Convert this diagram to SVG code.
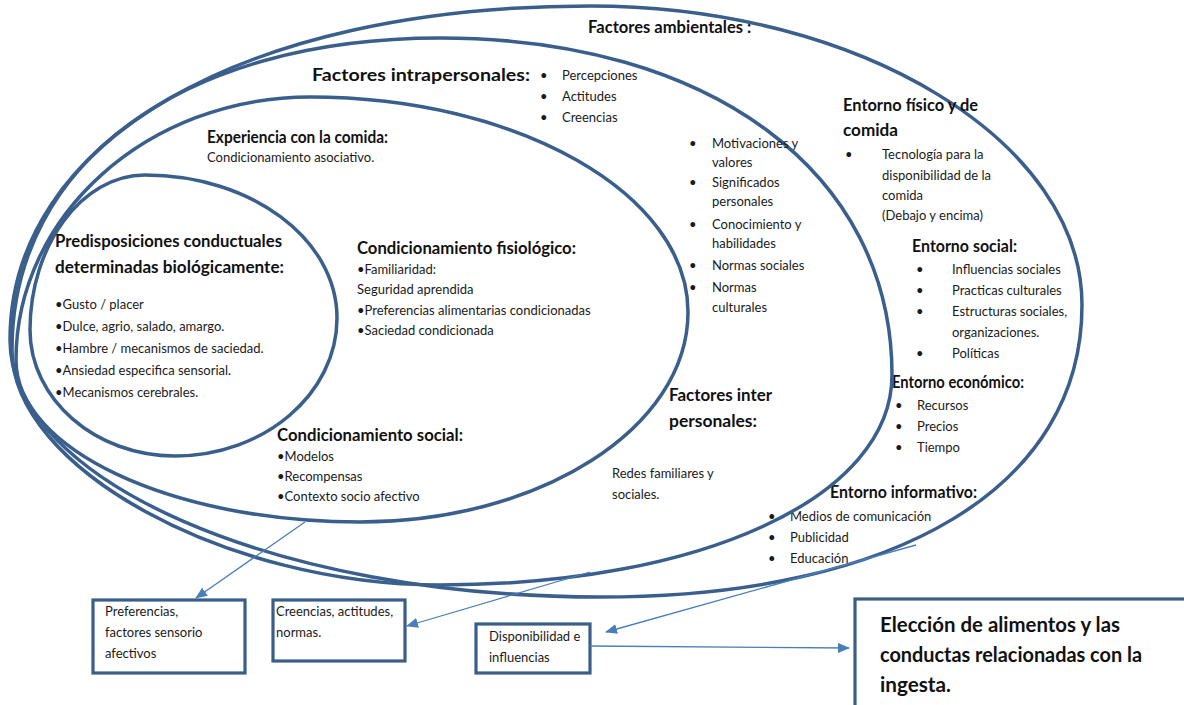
<svg xmlns="http://www.w3.org/2000/svg" width="1184" height="705" viewBox="0 0 1184 705">
<style>
.e{fill:none;stroke:#3a5f8c;stroke-width:3.5}
.b{fill:#fff;stroke:#3b5e88;stroke-width:3.2}
.t{font-family:Lato,"Liberation Sans",sans-serif;font-size:13px;fill:#1a1a1a}
.h{font-family:Lato,"Liberation Sans",sans-serif;font-size:16.5px;font-weight:bold;fill:#111}
.g{font-family:Lato,"Liberation Sans",sans-serif;font-size:21px;font-weight:bold;fill:#111}
.c{stroke:#4a7ebb;stroke-width:1.3;fill:none;marker-end:url(#ah)}
</style>
<defs>
<marker id="ah" viewBox="0 0 12 10" refX="11" refY="5" markerWidth="12" markerHeight="10" markerUnits="userSpaceOnUse" orient="auto"><path d="M0,0 L12,5 L0,10 Z" fill="#4a7ebb"/></marker>
</defs>
<rect width="1184" height="705" fill="#fff"/>

<g id="ambientales">
<path class="e" d="M10,340 C10,141 242,6 590,6 C861,6 1082,142 1082,305 C1082,486 899,597 600,597 C276,597 10,481 10,340 Z"/>
<text class="h" x="588" y="33" font-size="17.5" textLength="155" lengthAdjust="spacingAndGlyphs">Factores ambientales</text>
<text class="h" x="747" y="33" font-size="28">:</text>
<text class="h" x="843" y="111" textLength="135" lengthAdjust="spacingAndGlyphs">Entorno físico y de</text>
<text class="h" x="843" y="136" textLength="55" lengthAdjust="spacingAndGlyphs">comida</text>
<text class="t" x="845" y="159">•</text>
<text class="t" x="882" y="159">Tecnología para la</text>
<text class="t" x="882" y="180">disponibilidad de la</text>
<text class="t" x="882" y="200">comida</text>
<text class="t" x="882" y="220">(Debajo y encima)</text>
<text class="h" x="912" y="252" textLength="105" lengthAdjust="spacingAndGlyphs">Entorno social:</text>
<text class="t" x="916" y="274">•</text><text class="t" x="952" y="274">Influencias sociales</text>
<text class="t" x="916" y="295">•</text><text class="t" x="952" y="295">Practicas culturales</text>
<text class="t" x="916" y="316">•</text><text class="t" x="952" y="316">Estructuras sociales,</text>
<text class="t" x="952" y="337">organizaciones.</text>
<text class="t" x="916" y="358">•</text><text class="t" x="952" y="358">Políticas</text>
<text class="h" x="892" y="388" textLength="132" lengthAdjust="spacingAndGlyphs">Entorno económico:</text>
<text class="t" x="895" y="410">•</text><text class="t" x="917" y="410">Recursos</text>
<text class="t" x="895" y="431">•</text><text class="t" x="917" y="431">Precios</text>
<text class="t" x="895" y="452">•</text><text class="t" x="917" y="452">Tiempo</text>
<text class="h" x="830" y="498" textLength="147" lengthAdjust="spacingAndGlyphs">Entorno informativo:</text>
<text class="t" x="768" y="521">•</text><text class="t" x="790" y="521">Medios de comunicación</text>
<text class="t" x="768" y="542">•</text><text class="t" x="790" y="542">Publicidad</text>
<text class="t" x="768" y="563">•</text><text class="t" x="790" y="563">Educación</text>
</g>

<g id="intrapersonales">
<path class="e" d="M12,350 C12,163 183,38 440,38 C711,38 892,173 892,375 C892,497 702,585 440,585 C226,585 12,468 12,350 Z"/>
<text class="h" x="312" y="81" font-size="18" textLength="218" lengthAdjust="spacingAndGlyphs">Factores intrapersonales:</text>
<text class="t" x="540" y="80">•</text><text class="t" x="562" y="80">Percepciones</text>
<text class="t" x="540" y="101">•</text><text class="t" x="562" y="101">Actitudes</text>
<text class="t" x="540" y="122">•</text><text class="t" x="562" y="122">Creencias</text>
<text class="t" x="689" y="148">•</text><text class="t" x="712" y="148">Motivaciones y</text>
<text class="t" x="712" y="167">valores</text>
<text class="t" x="689" y="187">•</text><text class="t" x="712" y="187">Significados</text>
<text class="t" x="712" y="206">personales</text>
<text class="t" x="689" y="229">•</text><text class="t" x="712" y="229">Conocimiento y</text>
<text class="t" x="712" y="248">habilidades</text>
<text class="t" x="689" y="270">•</text><text class="t" x="712" y="270">Normas sociales</text>
<text class="t" x="689" y="292">•</text><text class="t" x="712" y="292">Normas</text>
<text class="t" x="712" y="312">culturales</text>
<text class="h" x="669" y="401" font-size="17" textLength="103" lengthAdjust="spacingAndGlyphs">Factores inter</text>
<text class="h" x="669" y="427" font-size="17" textLength="88" lengthAdjust="spacingAndGlyphs">personales:</text>
<text class="t" x="612" y="478">Redes familiares y</text>
<text class="t" x="612" y="499">sociales.</text>
</g>

<g id="experiencia">
<path class="e" d="M16,360 C16,215 148,97 310,97 C518,97 688,194 688,312 C688,428 540,522 360,522 C171,522 16,449 16,360 Z"/>
<text class="h" x="207" y="143" textLength="181" lengthAdjust="spacingAndGlyphs">Experiencia con la comida:</text>
<text class="t" x="207" y="162">Condicionamiento asociativo.</text>
<text class="h" x="357" y="254" textLength="219" lengthAdjust="spacingAndGlyphs">Condicionamiento fisiológico:</text>
<text class="t" x="357" y="274">•Familiaridad:</text>
<text class="t" x="357" y="294">Seguridad aprendida</text>
<text class="t" x="357" y="315">•Preferencias alimentarias condicionadas</text>
<text class="t" x="357" y="335">•Saciedad condicionada</text>
<text class="h" x="277" y="441" textLength="186" lengthAdjust="spacingAndGlyphs">Condicionamiento social:</text>
<text class="t" x="277" y="461">•Modelos</text>
<text class="t" x="277" y="481">•Recompensas</text>
<text class="t" x="277" y="501">•Contexto socio afectivo</text>
</g>

<g id="predisposiciones">
<path class="e" d="M30,330 C30,245 82,175 145,175 C251,175 337,239 337,318 C337,394 264,456 175,456 C95,456 30,399 30,330 Z"/>
<text class="h" x="55" y="247" font-size="17.5" textLength="227" lengthAdjust="spacingAndGlyphs">Predisposiciones conductuales</text>
<text class="h" x="55" y="273" font-size="17.5" textLength="229" lengthAdjust="spacingAndGlyphs">determinadas biológicamente:</text>
<text class="t" x="55" y="309">•Gusto / placer</text>
<text class="t" x="55" y="331">•Dulce, agrio, salado, amargo.</text>
<text class="t" x="55" y="353">•Hambre / mecanismos de saciedad.</text>
<text class="t" x="55" y="375">•Ansiedad especifica sensorial.</text>
<text class="t" x="55" y="397">•Mecanismos cerebrales.</text>
</g>

<g id="box-preferencias">
<rect class="b" x="93" y="600" width="152" height="73"/>
<text class="t" x="105" y="616">Preferencias,</text>
<text class="t" x="105" y="637">factores sensorio</text>
<text class="t" x="105" y="658">afectivos</text>
</g>
<g id="box-creencias">
<rect class="b" x="273" y="600" width="132" height="61"/>
<text class="t" x="276" y="616">Creencias, actitudes,</text>
<text class="t" x="276" y="637">normas.</text>
</g>
<g id="box-disponibilidad">
<rect class="b" x="476" y="624" width="114" height="49"/>
<text class="t" x="489" y="641">Disponibilidad e</text>
<text class="t" x="489" y="662">influencias</text>
</g>
<g id="box-eleccion">
<rect class="b" x="855" y="599" width="340" height="120"/>
<text class="g" x="880" y="632" textLength="240" lengthAdjust="spacingAndGlyphs">Elección de alimentos y las</text>
<text class="g" x="880" y="662" textLength="262" lengthAdjust="spacingAndGlyphs">conductas relacionadas con la</text>
<text class="g" x="880" y="692" textLength="71" lengthAdjust="spacingAndGlyphs">ingesta.</text>
</g>

<g id="connectors">
<line class="c" x1="305" y1="522" x2="196" y2="598"/>
<line class="c" x1="590" y1="572" x2="407" y2="626"/>
<line class="c" x1="916" y1="545" x2="606" y2="632"/>
<line class="c" x1="590" y1="646" x2="849" y2="648"/>
</g>
</svg>
